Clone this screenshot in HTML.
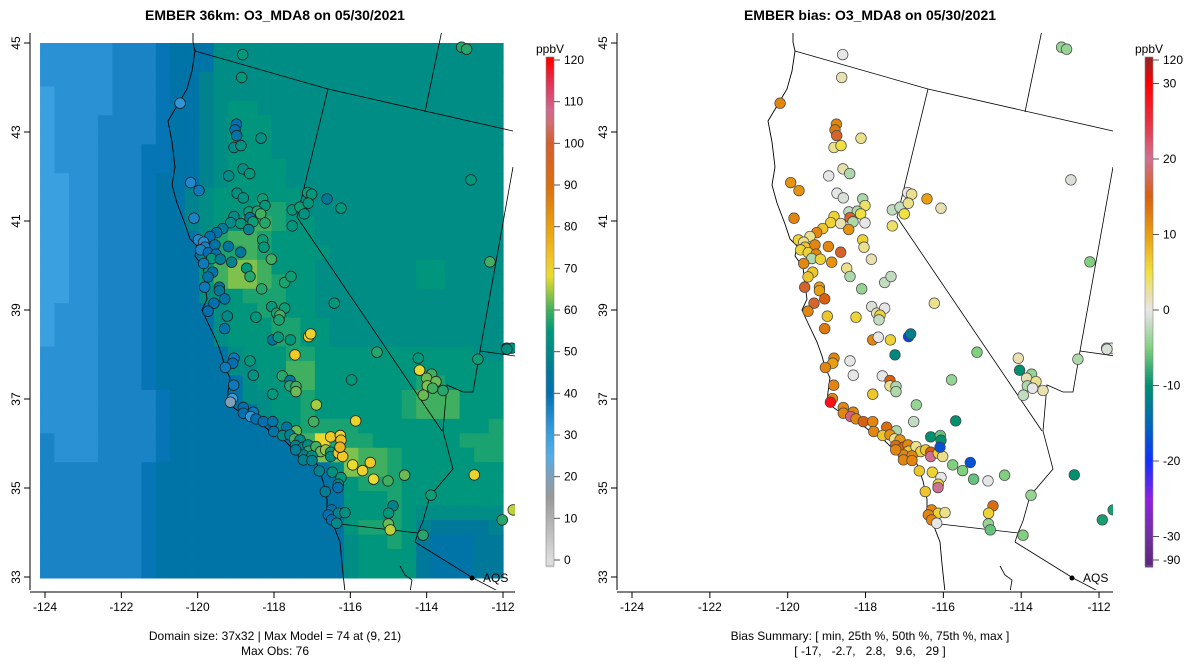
<!DOCTYPE html>
<html><head><meta charset="utf-8">
<style>
html,body{margin:0;padding:0;background:#fff;}
svg{display:block;font-family:"Liberation Sans",sans-serif;}
</style></head>
<body>
<svg id="root" width="1200" height="672" viewBox="0 0 1200 672">
<defs>
<clipPath id="clipL"><rect x="30" y="33" width="485" height="557"/></clipPath>
<clipPath id="clipR"><rect x="617" y="33" width="496" height="557"/></clipPath>
</defs>
<text x="275" y="20" text-anchor="middle" font-size="14" font-weight="bold">EMBER 36km: O3_MDA8 on 05/30/2021</text>
<text x="870" y="20" text-anchor="middle" font-size="14" font-weight="bold">EMBER bias: O3_MDA8 on 05/30/2021</text>
<g id="gridL" clip-path="url(#clipL)"></g>
<g id="mapL" clip-path="url(#clipL)"></g>
<g id="mapR" clip-path="url(#clipR)"></g>
<g id="ptsL" clip-path="url(#clipL)"></g>
<g id="ptsR" clip-path="url(#clipR)"></g>
<g id="axes"></g>
<g id="cbars"></g>
<text x="275" y="640" text-anchor="middle" font-size="12">Domain size: 37x32 | Max Model = 74 at (9, 21)</text>
<text x="275" y="655" text-anchor="middle" font-size="12">Max Obs: 76</text>
<text x="870" y="640" text-anchor="middle" font-size="12">Bias Summary: [ min, 25th %, 50th %, 75th %, max ]</text>
<text x="870" y="655" text-anchor="middle" font-size="12" xml:space="preserve">[ -17,   -2.7,   2.8,   9.6,   29 ]</text>
</svg>
<script>
// ---- data ----
const gridRows = [
"bbbbbcccdeeehhhhhhhhhhhhhhhhhhhh",
"bbbbbcccdeeehhhhhhhhhhhhhhhhhhhh",
"bbbbbcccdeeghhhhhhhhhhhhhhhhhhhh",
"abbbbcccdeeghhhhhhhhhhhhhhhhhhhh",
"abbbbcccdeeghiihhhhhhhhhhhhhhhhh",
"abbbccccdeeghiiihhhhhhhhhhhhhhhh",
"abbbccccdeeghiiihhhhhhhhhhhhhhhh",
"abbbcccddeeghiiihhhhhhhhhhhhhhhh",
"abbbcccddeeghiiiihhhhhhhhhhhhhhh",
"aabbcccdeeeghiiiihhhhhhhhhhhhhhh",
"aabbcccdeeghiiiiiihhhhhhhhhhhhhh",
"aabbcccdeeghiiijjihhhhhhhhhhhhhh",
"aabbcccdeeghiikkjiihhhhhhhhhhhhh",
"aabbcccdeeehjkkjiiihhhhhhhhhhhhh",
"aabbcccdeeehjjkjiiiihhhhhhhhhhhh",
"aabbcccdeeeikllkiiihhhhhhhiihhhh",
"aabbcccdeeeikllkjiihhhhhhhiihhhh",
"aabbcccdeeehiijjjiihhhhhhhhhhhhh",
"abbbcccdeeeehiijjiihhhhhhhhhhhhh",
"abbbcccdeeeehiiijjiihhhhhhhhhhhh",
"abbbcccdeeeehiiijjiihhhhhhhhhhhh",
"bbbbcccdeeeeehiiijjiiiiiiiiiiihh",
"bbbbcccdeeeeehhiikkiiiiiiiiiiiii",
"bbbbcccdeeeeeehiikkiiiiiiijjiiii",
"bbbbccccdeeeeehhiijiiiiiijkkkiii",
"bbbbccccdeeeeeehiijiiiiiijkkkiii",
"bbbbccccdeeeeeeehijjjjiiiiiiiiij",
"cbbbccccdeeeeeeeeeknjjjiiiiiijjj",
"cbbbccccdeeeeeeeeehlllkkjiiiiijj",
"cccccccdeeeeeeeeeeeehlkkjiiiiiii",
"cccccccdeeeeeeeeeeeeeijjjiiiiiii",
"cccccccdeeeeeeeeeeeeeiiijiiiiiii",
"cccccccdeeeeeeeeeeeeeiiijihhhhhh",
"cccccccdeeeeeeeeeeeeeijjjigffffg",
"cccccccdeeeeeeeeeeeeehiijifeeeff",
"cccccccdeeeeeeeeeeeeehiiiifeeeff",
"cccccccdeeeeeeeeeeeeehiiiifeeeff"
];
const gridLevels = "abcdefghijklmno";
const gridBase = 30, gridStep = 3;
const gridLon = [-123.794, -111.898];
const gridLat = [32.98, 45.0];

const stZ = [[248,44],[245,113],[60,190],[229,253],[225,270],[230,287],[303,295],[222,323],[243,317],[249,387],[269,401],[206,408],[92,428],[117,452],[231,460],[250,474],[308,477],[315,497],[267,516],[292,514],[302,522],[270,533],[279,546],[315,549],[102,535],[222,530],[212,548],[242,551],[188,566],[170,578],[266,569],[150,590],[115,600],[131,607],[135,622],[122,630],[145,638],[165,615],[205,620],[242,637],[168,643],[155,656],[181,658],[131,671],[215,667],[308,600],[312,622],[334,658],[260,685],[270,710],[158,697],[144,711],[134,742],[178,742],[178,752],[194,777],[162,790],[144,814],[202,829],[194,866],[288,832],[305,747],[374,728],[393,710],[335,800],[350,820],[374,805],[360,826],[357,840],[338,900],[355,892],[391,900],[446,890],[452,882],[405,945],[523,790],[397,558],[397,510],[420,502],[443,458],[455,463],[445,490],[433,522],[501,477],[543,505],[933,420],[990,666],[905,22],[920,28],[651,937],[775,955],[779,991],[815,1003],[800,1015],[828,1025],[802,1038],[818,1045],[849,1052],[790,1066],[954,958],[1040,925],[1055,925],[270,963],[280,1006],[367,1008],[390,1022],[390,1038],[408,1040],[408,1055],[338,1063],[575,1020],[222,955],[218,970],[196,983],[221,1036],[217,1076],[211,1087],[250,1103],[250,1120],[280,1117],[272,1130],[288,1137],[310,1145],[338,1145],[341,1175],[380,1162],[409,1173],[368,1187],[390,1185],[404,1197],[420,1200],[407,1217],[430,1222],[444,1215],[446,1234],[468,1220],[482,1235],[497,1230],[512,1237],[512,1250],[535,1240],[548,1250],[430,1245],[456,1248],[430,1260],[456,1262],[407,1230],[461,1145],[469,1095],[587,1143],[512,1191],[541,1187],[543,1201],[540,1222],[631,1268],[578,1275],[608,1292],[641,1318],[684,1323],[734,1306],[478,1293],[517,1297],[543,1313],[535,1333],[534,1343],[496,1355],[943,1305],[813,1366],[699,1398],[686,1420],[685,1452],[691,1470],[789,1486],[1027,1440],[1060,1410],[515,1410],[535,1420],[555,1418],[505,1425],[515,1440],[530,1450],[1041,928]];
const stLon = stZ.map(p => +(-120.71 + p[0]/116.8).toFixed(3));
const stLat = stZ.map(p => +(45.07 - p[1]/133.5).toFixed(3));
const stObs = [55,55,32,40,40,42,52,50,52,52,55,50,35,38,52,53,56,55,56,57,60,45,56,58,36,50,50,55,46,42,48,40,35,34,36,36,40,42,44,45,42,55,46,38,48,56,55,60,55,58,42,42,38,45,45,43,40,40,50,42,55,58,57,56,55,57,56,60,57,44,55,55,72,70,72,55,54,55,56,56,55,55,53,45,55,55,60,58,58,58,55,68,60,62,62,63,60,58,62,56,52,52,55,53,58,45,58,60,62,55,55,38,40,38,38,30,20,40,40,38,32,40,40,42,42,44,62,50,48,60,50,48,48,52,58,60,62,64,56,52,72,72,48,50,48,48,46,60,65,70,72,70,74,76,72,68,70,68,60,62,48,52,55,48,40,46,70,56,48,55,62,66,58,58,66,42,48,52,40,40,50,52];
const stBias = [0,2,12,12,13,16,3,3,5,2,-3,0,11,11,0,-1,-3,4,-2,-3,5,16,-3,0,12,6,6,2,7,12,11,3,6,3,7,6,6,12,12,16,12,-3,6,12,11,6,3,2,3,-3,7,7,16,10,10,15,16,12,7,13,6,-4,-2,-2,-1,2,0,6,-2,12,0,6,-18,-12,-11,3,4,-2,-2,0,3,3,5,10,2,-1,-5,-4,-4,-5,2,-10,-4,2,3,-3,0,2,-2,-3,0,-1,0,0,0,15,3,-3,-3,7,-4,12,10,12,12,12,28,12,12,12,21,12,15,12,12,14,-3,7,11,3,11,14,15,12,7,3,6,7,15,20,6,3,12,12,12,12,12,-2,-4,-10,-10,-6,-10,-17,-17,-5,-5,-6,0,-5,7,6,0,6,20,7,-10,-4,14,6,-4,-6,-5,-9,-9,12,6,3,12,12,0,-1];

const obsTicks = [0,10,20,30,40,50,60,70,80,90,100,110,120];
const biasTicks = [-90,-30,-20,-10,0,10,20,30,120];
const xTicks = [-124,-122,-120,-118,-116,-114,-112];
const yTicks = [33,35,37,39,41,43,45];

// ---- helpers ----
const NS = "http://www.w3.org/2000/svg";
function mk(tag, attrs, parent){const e=document.createElementNS(NS,tag);for(const k in attrs)e.setAttribute(k,attrs[k]);parent.appendChild(e);return e;}
const xAxL = lon => 45 + (lon+124)*38.167;   // left tick axis
const xR = lon => 632 + (lon+124)*38.92;     // right map/axis
const xL = lon => xR(lon) - 600;             // left map (same projection, shifted panel)
const yM = lat => 43 + (45-lat)*44.5;
function hex(c){return [parseInt(c.slice(1,3),16),parseInt(c.slice(3,5),16),parseInt(c.slice(5,7),16)];}
function interp(stops, v){
  if(v<=stops[0][0]) return stops[0][1];
  for(let i=1;i<stops.length;i++){ if(v<=stops[i][0]){
    const a=stops[i-1],b=stops[i],t=(v-a[0])/(b[0]-a[0]),ca=hex(a[1]),cb=hex(b[1]);
    return "rgb("+ca.map((x,j)=>Math.round(x+(cb[j]-x)*t)).join(",")+")";}}
  return stops[stops.length-1][1];
}
const obsStops=[[0,"#dcdcdc"],[10,"#b0b0b0"],[15,"#999999"],[20,"#80a0b8"],[25,"#55aee6"],[30,"#3aa0e0"],[35,"#2088cc"],[40,"#0070b0"],[45,"#00789a"],[50,"#008a88"],[55,"#00987a"],[60,"#40b060"],[65,"#a8cc40"],[68,"#e8dc30"],[72,"#f0c828"],[80,"#e8a010"],[90,"#d87010"],[100,"#d06030"],[105,"#d07070"],[108,"#d06890"],[115,"#e03050"],[120,"#ff0000"]];
const biasStops=[[-90,"#602880"],[-30,"#7030a0"],[-25,"#9020e0"],[-20,"#1030ff"],[-15,"#0068b8"],[-10,"#009070"],[-5,"#80d080"],[-1,"#d8e0d8"],[0,"#e6e6e6"],[2,"#e8e0b0"],[5,"#f0e040"],[10,"#e8a010"],[15,"#d86010"],[20,"#d07090"],[25,"#e83040"],[30,"#ff0000"],[120,"#a02020"]];
const obsColor = v => interp(obsStops, v);
const biasColor = v => interp(biasStops, v);

// ---- model grid ----
const gL = document.getElementById("gridL");
const nR = gridRows.length, nC = gridRows[0].length;
const gx0 = xL(gridLon[0]), gx1 = xL(gridLon[1]), gy0 = yM(gridLat[1]), gy1 = yM(gridLat[0]);
const cw = (gx1-gx0)/nC, ch = (gy1-gy0)/nR;
gridRows.forEach((row,r)=>{
  for(let c=0;c<nC;c++){
    const v = gridBase + gridStep*gridLevels.indexOf(row[Math.min(c,row.length-1)]);
    const cell = mk("rect",{x:(gx0+c*cw).toFixed(2),y:(gy0+r*ch).toFixed(2),width:(cw+0.6).toFixed(2),height:(ch+0.6).toFixed(2),fill:obsColor(v)},gL);
    
    
  }
});

// ---- basemap (left-panel pixel geometry; right panel = +600) ----
const coast=[[193,33],[193,42],[195,51],[192,71],[187,89],[177,106],[168,121],[172,142],[175,167],[172,185],[177,203],[185,224],[190,239],[197,246],[195,256],[203,267],[205,285],[207,299],[202,310],[207,321],[217,342],[222,356],[225,367],[230,378],[228,392],[227,403],[237,410],[257,421],[270,431],[283,439],[297,453],[300,460],[317,464],[323,481],[327,499],[327,514],[333,524],[340,542],[342,564],[345,592]];
const borders=[
 [[195,51],[328,89],[513,131]],
 [[442,30],[425,112]],
 [[328,89],[297,217],[442,431]],
 [[513,167],[480,351],[473,392],[463,392],[447,385],[443,431],[453,469],[430,496],[423,521],[418,533],[415,542]],
 [[480,351],[515,356]],
 [[340,524],[418,533]],
 [[415,542],[473,578],[515,600]],
 [[400,566],[405,575],[412,580],[410,592]]
];
function drawMap(gid, right){
  const g=document.getElementById(gid);
  const tx = x => right ? x+600 : x;
  const pth = pts => "M"+pts.map(p=>tx(p[0]).toFixed(1)+","+p[1]).join("L");
  const c=mk("path",{d:pth(coast),fill:"none",stroke:"#000","stroke-width":0.9},g);
  
  
  borders.forEach(b=>{
    const e=mk("path",{d:pth(b),fill:"none",stroke:"#000","stroke-width":0.8},g);
    
    
  });
  const d=mk("circle",{cx:tx(472),cy:578,r:2.5,fill:"#000"},g);
  
  
  const t=mk("text",{x:tx(472)+11,y:582,"font-size":12},g);
  t.textContent="AQS";
  
  
}
drawMap("mapL", false);
drawMap("mapR", true);

// ---- stations ----
const pL=document.getElementById("ptsL"), pR=document.getElementById("ptsR");
stLon.forEach((lon,i)=>{
  const a=mk("circle",{cx:xL(lon).toFixed(1),cy:yM(stLat[i]).toFixed(1),r:5.3,fill:obsColor(stObs[i]),stroke:"#222","stroke-width":0.8},pL);
  
  
  const b=mk("circle",{cx:xR(lon).toFixed(1),cy:yM(stLat[i]).toFixed(1),r:5.3,fill:biasColor(stBias[i]),stroke:"#444","stroke-width":0.7},pR);
  
  
});

// ---- axes ----
const ax=document.getElementById("axes");
function axesFor(xf, left, right, ylineX){
  const xl=mk("line",{x1:left,x2:right,y1:592,y2:592,stroke:"#000","stroke-width":1},ax);
  
  
  xTicks.forEach(v=>{
    const x=xf(v);
    const tk=mk("line",{x1:x,x2:x,y1:592,y2:598,stroke:"#000"},ax);
    
    
    const t=mk("text",{x:x,y:611,"text-anchor":"middle","font-size":12},ax);
    t.textContent=v;
    
    
  });
  const yl=mk("line",{x1:ylineX,x2:ylineX,y1:33,y2:590,stroke:"#000","stroke-width":1},ax);
  
  
  yTicks.forEach(v=>{
    const y=yM(v);
    const tk=mk("line",{x1:ylineX-6,x2:ylineX,y1:y,y2:y,stroke:"#000"},ax);
    
    
    const t=mk("text",{x:ylineX-10,y:y,"text-anchor":"middle","font-size":12,transform:`rotate(-90 ${ylineX-10} ${y})`},ax);
    t.textContent=v;
    
    
  });
}
axesFor(xAxL, 30, 515, 30);
axesFor(xR, 617, 1113, 617);

// ---- colorbars ----
const cb=document.getElementById("cbars");
const cbTop=57, cbBot=566;
const obsY = v => 560 - (v/120)*500;
function biasY(v){
  if(v>30) return 84 - (v-30)/90*24;
  if(v<-30) return 537 + (-30-v)/60*23;
  return 310 - v*7.55;
}
function biasFromY(y){
  if(y<84) return 30 + (84-y)/24*90;
  if(y>537) return -30 - (y-537)/23*60;
  return (310-y)/7.55;
}
function bar(x, valFromY, colorF, ticks, yf, name){
  for(let y=cbTop;y<cbBot;y+=2){
    const r=mk("rect",{x:x,y:y,width:8,height:2.4,fill:colorF(valFromY(y+1))},cb);
    
    
  }
  const fr=mk("rect",{x:x,y:cbTop,width:8,height:cbBot-cbTop,fill:"none",stroke:"#888","stroke-width":0.6},cb);
  
  
  ticks.forEach(v=>{
    const y=yf(v);
    const tk=mk("line",{x1:x+8,x2:x+14,y1:y,y2:y,stroke:"#555"},cb);
    
    
    const t=mk("text",{x:x+18,y:y+4,"font-size":12},cb);
    t.textContent=v;
    
    
  });
  const u=mk("text",{x:x+4,y:53,"text-anchor":"middle","font-size":12},cb);
  u.textContent="ppbV";
  
  
}
bar(546, y=>(560-y)/500*120, obsColor, obsTicks, obsY, "obs-colorbar");
bar(1145, biasFromY, biasColor, biasTicks, biasY, "bias-colorbar");
</script>
</body></html>
